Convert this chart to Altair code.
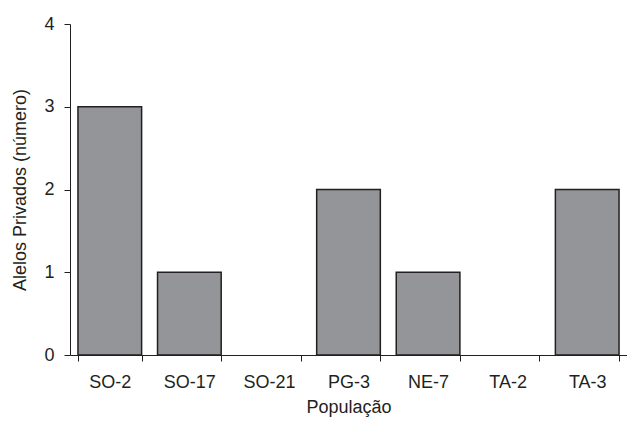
import altair as alt
import pandas as pd

populacao = ["SO-2", "SO-17", "SO-21", "PG-3", "NE-7", "TA-2", "TA-3"]
alelos = [3, 1, 0, 2, 1, 0, 2]

df = pd.DataFrame({"pop": populacao, "val": alelos})
txt = "#231f20"
font = "Liberation Sans"
fs = 18

chart = alt.Chart(df).mark_bar(
    color="#939598", stroke=txt, strokeWidth=1.5
).transform_filter(
    "datum.val > 0"
).encode(
    x=alt.X("pop:N", title="População",
            scale=alt.Scale(domain=populacao, paddingInner=0.2, paddingOuter=0.1),
            axis=alt.Axis(labelAngle=0, tickBand="extent", tickSize=6,
                          labelPadding=12, titlePadding=7,
                          domainColor=txt, tickColor=txt, labelColor=txt, titleColor=txt,
                          labelFont=font, titleFont=font, labelFontSize=fs, titleFontSize=fs,
                          titleFontWeight="normal")),
    y=alt.Y("val:Q", title="Alelos Privados (número)",
            scale=alt.Scale(domain=[0, 4], nice=False),
            axis=alt.Axis(values=[0, 1, 2, 3, 4], grid=False, tickSize=6, labelPadding=10,
                          titlePadding=14, format="d",
                          domainColor=txt, tickColor=txt, labelColor=txt, titleColor=txt,
                          labelFont=font, titleFont=font, labelFontSize=fs, titleFontSize=fs,
                          titleFontWeight="normal")),
).properties(
    width=557, height=331,
    autosize=alt.AutoSizeParams(type="none"),
    padding={"left": 62, "top": 16, "right": 0, "bottom": 70},
).configure_view(stroke=None)

chart.save("out.html", embed_options={"renderer": "svg", "actions": False})
